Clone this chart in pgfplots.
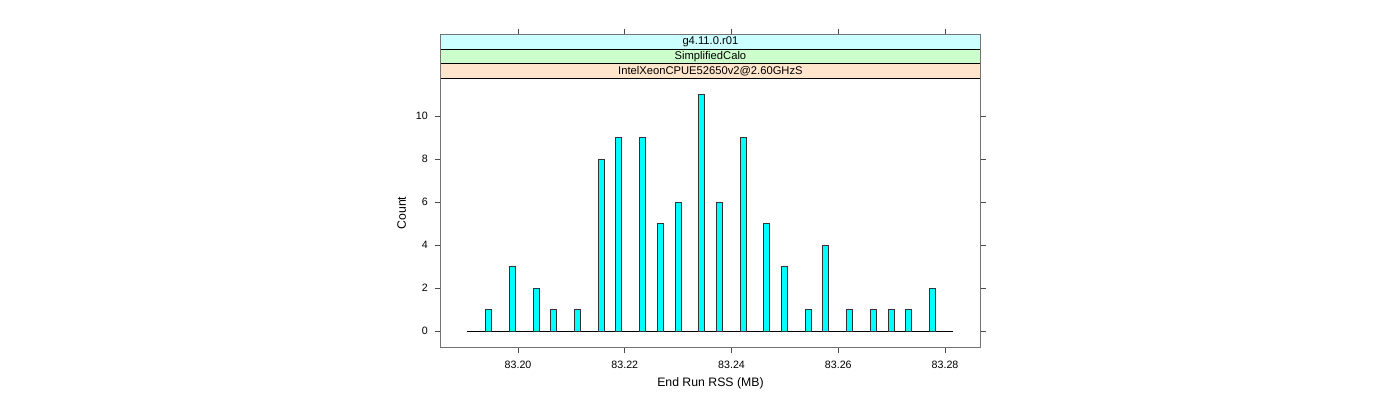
\documentclass[border=0pt]{standalone}
\usepackage{fontspec}
\setmainfont{Liberation Sans}
\usepackage{pgfplots}
\pgfplotsset{compat=1.18}
\definecolor{stripA}{HTML}{CCFFFF}
\definecolor{stripB}{HTML}{CCFFCC}
\definecolor{stripC}{HTML}{FFE5CC}
\definecolor{barfill}{HTML}{00FFFF}
\begin{document}
\begin{tikzpicture}
\useasboundingbox (0,0) rectangle (1050pt,300pt);
\begin{axis}[
    at={(330.4pt,39.5pt)}, anchor=south west,
    scale only axis, width=404.85pt, height=234.6pt,
    xmin=83.18548, xmax=83.28661,
    ymin=-0.758, ymax=13.79,
    clip=false,
    axis line style={black!55, line width=0.8pt},
    tick style={black!70, line width=0.6pt},
    tick align=outside,
    major tick length=4.5pt,
    xtick={83.20,83.22,83.24,83.26,83.28},
    ytick={0,2,4,6,8,10},
    xticklabel pos=lower,
    yticklabel pos=left,
    /pgf/number format/assume math mode=true,
    xticklabel style={/pgf/number format/fixed, /pgf/number format/fixed zerofill, /pgf/number format/precision=2},
    tick label style={font=\fontsize{8}{9}\selectfont},
    xticklabel style={anchor=north, yshift=-2pt},
    yticklabel style={anchor=east, xshift=-1.5pt},
    xlabel={End Run RSS (MB)},
    ylabel={Count},
    label style={font=\fontsize{9.2}{11}\selectfont},
    xlabel style={at={(axis description cs:0.5,0)}, anchor=center, yshift=-26.8pt},
    ylabel style={at={(axis description cs:0,0.4293)}, anchor=center, yshift=29.1pt},
  ]
% strips
\fill[stripA] (rel axis cs:0,0.9527) rectangle (rel axis cs:1,1);
\fill[stripB] (rel axis cs:0,0.9063) rectangle (rel axis cs:1,0.9527);
\fill[stripC] (rel axis cs:0,0.8600) rectangle (rel axis cs:1,0.9063);
\draw[black, line width=0.6pt] (rel axis cs:0,0.9527) -- (rel axis cs:1,0.9527);
\draw[black, line width=0.6pt] (rel axis cs:0,0.9063) -- (rel axis cs:1,0.9063);
\draw[black, line width=0.6pt] (rel axis cs:0,0.8600) -- (rel axis cs:1,0.8600);
\node[font=\fontsize{8.4}{10}\selectfont] at (rel axis cs:0.5,0.97635) {g4.11.0.r01};
\node[font=\fontsize{8.4}{10}\selectfont] at (rel axis cs:0.5,0.9295) {SimplifiedCalo};
\node[font=\fontsize{8.4}{10}\selectfont] at (rel axis cs:0.5,0.88315) {IntelXeonCPUE52650v2@2.60GHzS};
% baseline
\addplot[black, line width=0.75pt] coordinates {(83.19040,0) (83.28150,0)};
% bars
\addplot[ybar, bar width=0.001123, fill=barfill, draw=black!80, line width=0.6pt] coordinates {
(83.19447,1) (83.19888,3) (83.20337,2) (83.20665,1) (83.21105,1)
(83.21555,8) (83.21887,9) (83.22323,9) (83.22660,5) (83.22998,6)
(83.23438,11) (83.23771,6) (83.24215,9) (83.24652,5) (83.24993,3)
(83.25433,1) (83.25765,4) (83.26215,1) (83.26657,1) (83.26988,1)
(83.27312,1) (83.27762,2)
};
\end{axis}
\end{tikzpicture}
\end{document}
